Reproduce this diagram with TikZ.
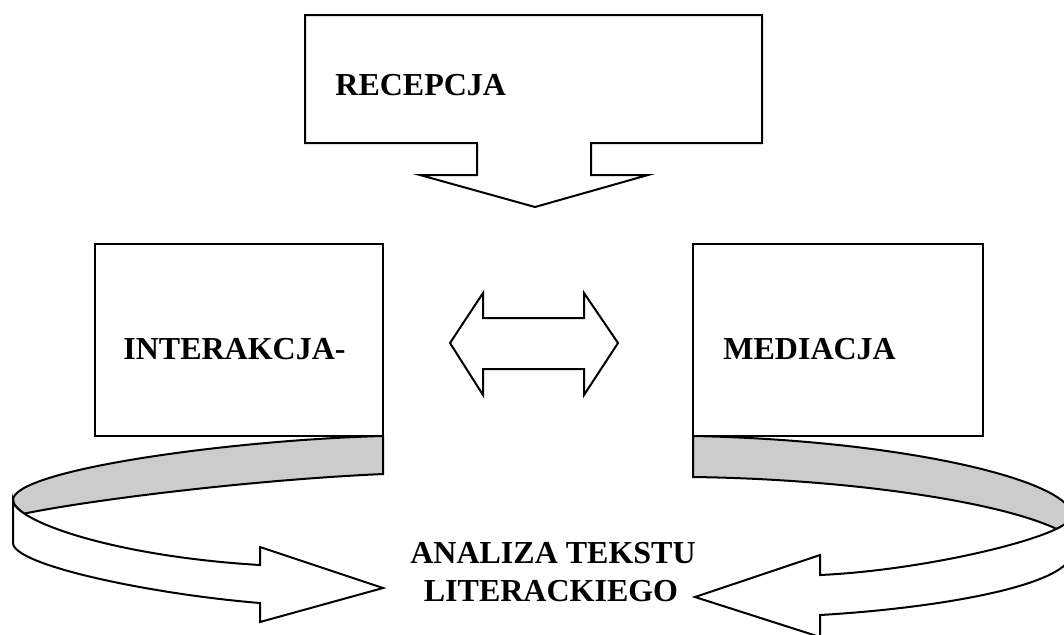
\documentclass[tikz,border=0pt]{standalone}
\usepackage{fontspec}
\setmainfont{Liberation Serif}
\usepackage{tikz}
\definecolor{bandgray}{RGB}{204,204,204}

\tikzset{
  outline/.style={draw=black, line width=1pt, line join=miter, fill=white},
  band/.style={outline, fill=bandgray},
  boxtext/.style={font=\fontsize{16}{19}\selectfont\bfseries, inner sep=0pt, anchor=base west},
}

\begin{document}
\begin{tikzpicture}[x=0.5pt, y=-0.5pt]
\useasboundingbox (0,0) rectangle (1064,634);
\clip (0,0) rectangle (1064,634);

% top callout
\draw[outline] (305,15) -- (762,15) -- (762,143) -- (591,143) -- (591,175) -- (648,175)
  -- (535,207) -- (420,175) -- (477,175) -- (477,143) -- (305,143) -- cycle;
\node[boxtext] (recepcja) at (335,95) {RECEPCJA};

% side boxes
\draw[outline] (95,244) rectangle (383,436);
\node[boxtext] (interakcja) at (123,359) {INTERAKCJA-};
\draw[outline] (693,244) rectangle (983,436);
\node[boxtext] (mediacja) at (723,359) {MEDIACJA};

% double arrow
\draw[outline] (450,343) -- (483,293) -- (483,318) -- (584,318) -- (584,293) -- (618,343)
  -- (584,395) -- (584,369) -- (483,369) -- (483,395) -- cycle;

% left ribbon
\draw[band] (383,436) .. controls (230,440) and (13,470) .. (13,500)
  .. controls (13,504) and (16.9,508.6) .. (24.3,513.6)
  .. controls (90,500) and (250,480) .. (383,474) -- cycle;
\draw[outline] (13,500) .. controls (13,520) and (110,556) .. (260,565) -- (260,547)
  -- (383,588) -- (260,622) -- (260,603) .. controls (150,594) and (13,565) .. (13,543) -- cycle;

% right ribbon
\draw[band] (693,436) .. controls (900,440) and (1072,480) .. (1072,516)
  .. controls (1072,519.8) and (1066.3,524.2) .. (1056.4,528.9)
  .. controls (1000,502) and (850,479) .. (693,477) -- cycle;
\draw[outline] (1072,516) .. controls (1072,535) and (930,570) .. (820,575) -- (820,555)
  -- (695,597) -- (820,637) -- (820,615) .. controls (940,608) and (1072,585) .. (1072,552) -- cycle;

% centre text
\node[boxtext, anchor=base] (analiza) at (553,563) {ANALIZA TEKSTU};
\node[boxtext, anchor=base] (literackiego) at (551,601) {LITERACKIEGO};
\end{tikzpicture}
\end{document}
